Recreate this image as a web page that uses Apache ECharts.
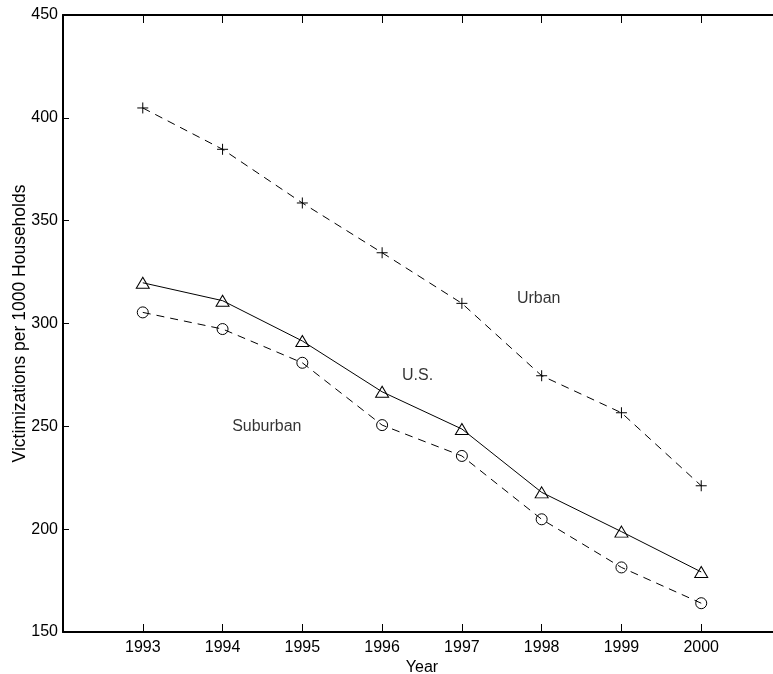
<!DOCTYPE html>
<html>
<head>
<meta charset="utf-8">
<script src="https://cdn.jsdelivr.net/npm/echarts@6/dist/echarts.min.js"></script>
<style>
html,body{margin:0;padding:0;background:#fff;}
#chart{width:773px;height:674px;}
</style>
</head>
<body>
<div id="chart"></div>
<script>
const years = [1993, 1994, 1995, 1996, 1997, 1998, 1999, 2000];
const urban = [404.8, 384.7, 358.6, 334.4, 309.8, 274.6, 256.6, 221.1];
const us = [319.8, 311.1, 291.5, 266.8, 248.7, 217.9, 198.8, 179.2];
const suburban = [305.4, 297.3, 280.9, 250.6, 235.6, 204.8, 181.4, 164.0];
const annotationLabels = ['Urban', 'U.S.', 'Suburban'];
const annotationX = [1997.69, 1996.25, 1994.12];
const annotationY = [312.0, 274.5, 249.7];
const yTicks = [150, 200, 250, 300, 350, 400, 450];

const FONT = 'Liberation Sans, Arial, sans-serif';
const zip = (xs, ys) => xs.map((x, i) => [x, ys[i]]);

const chart = echarts.init(document.getElementById('chart'), null, {renderer: 'canvas'});
chart.setOption({
  animation: false,
  backgroundColor: '#fff',
  grid: {left: 63, top: 15, bottom: 42, right: -8, containLabel: false, outerBoundsMode: 'none'},
  xAxis: [{
    type: 'value', min: 1992, max: 2001, interval: 1, position: 'bottom',
    name: 'Year', nameLocation: 'middle', nameGap: 28, nameMoveOverlap: false,
    nameTextStyle: {color: '#000', fontSize: 16, fontFamily: FONT},
    axisLine: {show: true, onZero: false, lineStyle: {color: '#000', width: 2}},
    axisTick: {show: true, inside: true, length: 8, lineStyle: {color: '#000', width: 1}},
    axisLabel: {color: '#000', fontSize: 16, fontFamily: FONT, margin: 8,
      formatter: v => (years.indexOf(v) >= 0 ? String(v) : '')},
    splitLine: {show: false}
  }, {
    type: 'value', min: 1992, max: 2001, interval: 1, position: 'top',
    axisLine: {show: true, onZero: false, lineStyle: {color: '#000', width: 2}},
    axisTick: {show: true, inside: true, length: 8, lineStyle: {color: '#000', width: 1}},
    axisLabel: {show: false},
    splitLine: {show: false}
  }],
  yAxis: {
    type: 'value', min: yTicks[0], max: yTicks[yTicks.length - 1], interval: 50,
    name: 'Victimizations per 1000 Households', nameLocation: 'middle', nameGap: 34,
    nameMoveOverlap: false,
    nameTextStyle: {color: '#000', fontSize: 17.5, fontFamily: FONT},
    axisLine: {show: true, onZero: false, lineStyle: {color: '#000', width: 2}},
    axisTick: {show: true, inside: true, length: 6, lineStyle: {color: '#000', width: 1}},
    axisLabel: {color: '#000', fontSize: 16, fontFamily: FONT, margin: 5},
    splitLine: {show: false}
  },
  series: [{
    name: 'Urban', type: 'line', data: zip(years, urban),
    symbol: 'path://M0,5L10,5M5,0L5,10', symbolSize: 11,
    itemStyle: {color: 'none', borderColor: '#000', borderWidth: 1},
    lineStyle: {color: '#000', width: 1, type: [8, 6]}
  }, {
    name: 'U.S.', type: 'line', data: zip(years, us),
    symbol: 'triangle', symbolSize: [13, 11],
    itemStyle: {color: 'none', borderColor: '#000', borderWidth: 1},
    lineStyle: {color: '#000', width: 1, type: 'solid'}
  }, {
    name: 'Suburban', type: 'line', data: zip(years, suburban),
    symbol: 'circle', symbolSize: 11,
    itemStyle: {color: 'none', borderColor: '#000', borderWidth: 1},
    lineStyle: {color: '#000', width: 1, type: [8, 6]}
  }, {
    name: 'labels', type: 'scatter', symbolSize: 0,
    data: annotationLabels.map((t, i) => ({value: [annotationX[i], annotationY[i]], name: t})),
    label: {show: true, position: [0, 0], align: 'left', verticalAlign: 'middle',
      formatter: p => p.name, color: '#000', fontSize: 16, fontFamily: FONT},
    itemStyle: {color: 'none'}
  }]
});
</script>
</body>
</html>
